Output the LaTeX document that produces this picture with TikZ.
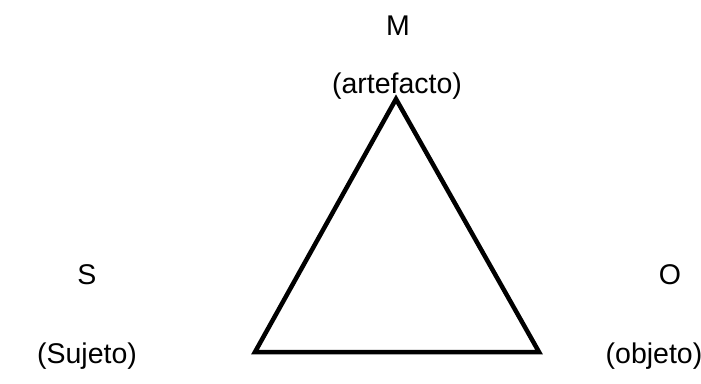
\documentclass[tikz,border=0pt]{standalone}
\usepackage{fontspec}
\setmainfont{Liberation Sans}
\usetikzlibrary{calc}

\begin{document}
\begin{tikzpicture}[x=1pt, y=-1pt, every node/.style={font=\fontsize{28.5}{33}\selectfont, inner sep=0pt}]
  \useasboundingbox (0,0) rectangle (701,383);

  \begin{scope}
    \coordinate (top) at (396,99);
    \coordinate (left) at (255,352);
    \coordinate (right) at (539,352);
    \draw[line width=4.5pt] (top) -- (left) -- (right) -- cycle;
  \end{scope}

  \foreach \n/\lab/\x/\y in {m/M/398/26, mart/(artefacto)/397/86,
                             s/S/87/275, suj/(Sujeto)/87/356,
                             o/O/670/275, obj/(objeto)/654/356}
    \node (\n) at (\x,\y) {\lab};
\end{tikzpicture}
\end{document}
